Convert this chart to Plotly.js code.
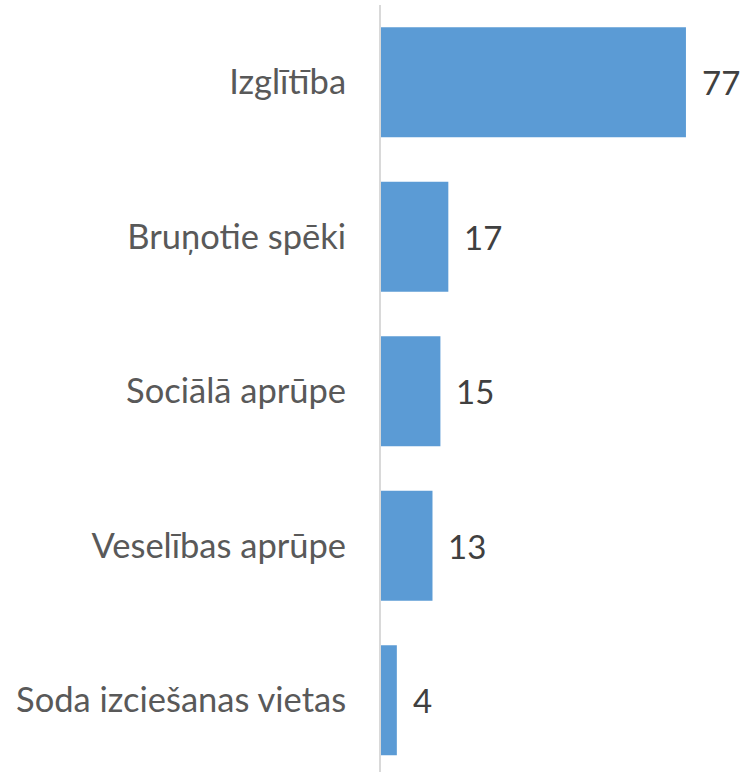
<!DOCTYPE html>
<html>
<head>
<meta charset="utf-8">
<script src="https://cdn.plot.ly/plotly-3.0.1.min.js"></script>
<style>html,body{margin:0;padding:0;background:#fff;}</style>
</head>
<body>
<div id="chart" style="width:741px;height:772px;"></div>
<script>
const categories = ["Izglītība", "Bruņotie spēki", "Sociālā aprūpe", "Veselības aprūpe", "Soda izciešanas vietas"];
const values = [77, 17, 15, 13, 4];

const fontFamily = "Lato, 'Open Sans', sans-serif";

const trace = {
  type: "bar",
  orientation: "h",
  y: categories,
  x: values,
  marker: {color: "#5B9BD5", line: {width: 0}},
  hoverinfo: "none"
};

const annotations = categories.map((c, i) => ({
  x: values[i], y: c, xref: "x", yref: "y",
  text: String(values[i]), showarrow: false,
  xanchor: "left", yanchor: "middle", xshift: 14,
  font: {family: fontFamily, size: 33, color: "#404040"}
}));

const layout = {
  width: 741, height: 772,
  margin: {l: 381, r: 0, t: 5, b: 0, pad: 0},
  paper_bgcolor: "#ffffff", plot_bgcolor: "#ffffff",
  showlegend: false,
  bargap: 0.288,
  xaxis: {range: [0, 90.9], showticklabels: false, showgrid: false, zeroline: false, showline: false, ticks: ""},
  yaxis: {
    range: [4.464, -0.5],
    showline: true, linecolor: "#d9d9d9", linewidth: 2,
    showgrid: false, zeroline: false,
    ticks: "outside", ticklen: 26, tickcolor: "rgba(0,0,0,0)",
    tickfont: {family: fontFamily, size: 34.5, color: "#595959"}
  },
  annotations: annotations
};

Plotly.newPlot("chart", [trace], layout, {displayModeBar: false, staticPlot: true});
</script>
</body>
</html>
